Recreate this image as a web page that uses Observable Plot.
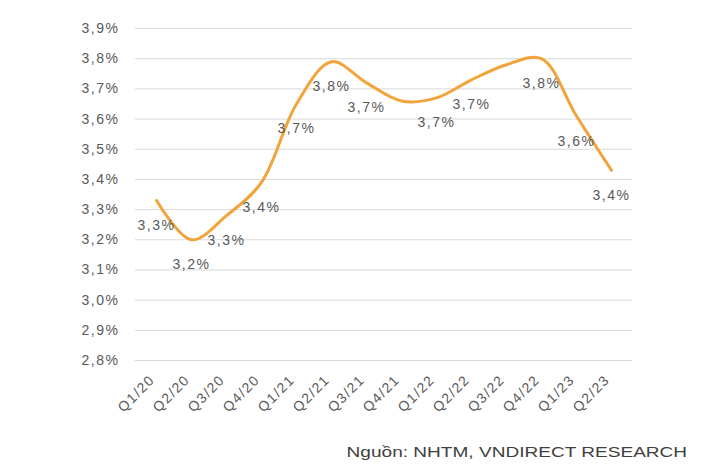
<!DOCTYPE html>
<html>
<head>
<meta charset="utf-8">
<script src="https://cdn.jsdelivr.net/npm/d3@7"></script>
<script src="https://cdn.jsdelivr.net/npm/@observablehq/plot@0.6"></script>
<style>
  html, body { margin: 0; padding: 0; background: #fff; }
  body { width: 703px; height: 467px; position: relative; overflow: hidden; font-family: "Liberation Sans", Arial, sans-serif; }
  #topline { position: absolute; left: 37px; top: 0; width: 631px; height: 2px; background: #111; }
  #topmark { position: absolute; left: 699px; top: 0; width: 4px; height: 5px; background: #999; }
  #chart { position: absolute; left: 0; top: 0; }
  #chart svg text { letter-spacing: 1.5px; }
  #caption { position: absolute; right: 16px; top: 443px; font-size: 15px; line-height: 18px; color: #404040; white-space: nowrap; transform: scaleX(1.27); transform-origin: right center; }
</style>
</head>
<body>
<div id="topline"></div>
<div id="topmark"></div>
<div id="chart"></div>
<div id="caption">Nguồn: NHTM, VNDIRECT RESEARCH</div>
<script>
const quarters = ["Q1/20","Q2/20","Q3/20","Q4/20","Q1/21","Q2/21","Q3/21","Q4/21","Q1/22","Q2/22","Q3/22","Q4/22","Q1/23","Q2/23"];
const values   = [3.33, 3.20, 3.28, 3.39, 3.65, 3.79, 3.72, 3.66, 3.67, 3.73, 3.78, 3.80, 3.61, 3.43];
const labels   = ["3,3%","3,2%","3,3%","3,4%","3,7%","3,8%","3,7%",null,"3,7%","3,7%",null,"3,8%","3,6%","3,4%"];
const yTicks   = [2.8, 2.9, 3.0, 3.1, 3.2, 3.3, 3.4, 3.5, 3.6, 3.7, 3.8, 3.9];

const data = quarters.map((q, i) => ({q, v: values[i], label: labels[i]}));
const fmt = d => d.toFixed(1).replace(".", ",") + "%";

const chart = Plot.plot({
  width: 703,
  height: 430,
  marginTop: 28,
  marginBottom: 70,
  marginLeft: 135,
  marginRight: 71,
  style: {fontFamily: "'Liberation Sans', Arial, sans-serif", fontSize: "14px", color: "#595959", background: "#fff"},
  x: {type: "point", domain: quarters, padding: 0.5, label: null},
  y: {domain: [2.8, 3.9], label: null},
  marks: [
    Plot.gridY(yTicks, {stroke: "#d9d9d9", strokeOpacity: 1, strokeWidth: 1}),
    Plot.axisY(yTicks, {tickFormat: fmt, tickSize: 0, tickPadding: 16, fill: "#595959", fontSize: 14, label: null}),
    Plot.axisX({tickSize: 0, tickRotate: -45, tickPadding: 17, dx: -4, fill: "#595959", fontSize: 14, label: null}),
    Plot.line(data, {x: "q", y: "v", curve: "catmull-rom", stroke: "#F2A33A", strokeWidth: 3}),
    Plot.text(data.filter(d => d.label), {x: "q", y: "v", text: "label", dy: 25, fill: "#595959", fontSize: 14})
  ]
});
document.getElementById("chart").appendChild(chart);
</script>
</body>
</html>
